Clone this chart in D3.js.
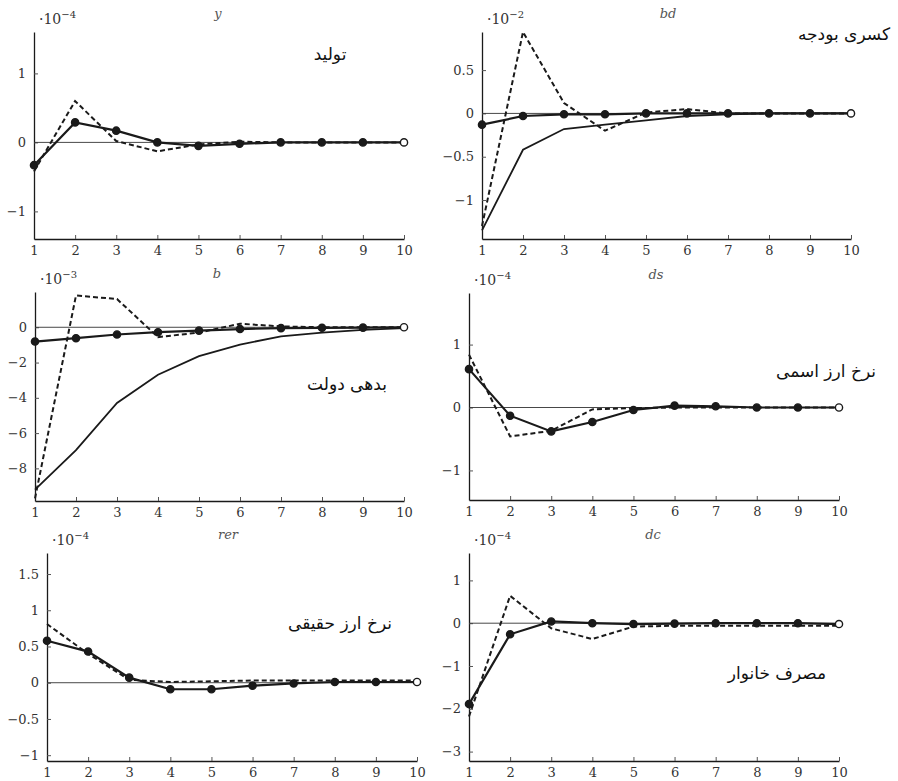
<!DOCTYPE html>
<html>
<head>
<meta charset="utf-8">
<script src="https://cdn.jsdelivr.net/npm/d3@7"></script>
<style>
  body { margin: 0; background: #fff; }
  svg { display: block; }
</style>
</head>
<body>
<div id="chart"></div>
<script>
// periods on the x axis
const periods = [1, 2, 3, 4, 5, 6, 7, 8, 9, 10];

// y : output
const yMarked = [-0.33, 0.29, 0.17, 0.0, -0.05, -0.02, 0.0, 0.0, 0.0, 0.0];
const yDashed = [-0.42, 0.6, 0.02, -0.13, -0.03, 0.01, 0.0, 0.0, 0.0, 0.0];

// bd : budget deficit
const bdMarked = [-0.13, -0.03, -0.01, -0.01, 0.0, 0.0, 0.0, 0.0, 0.0, 0.0];
const bdDashed = [-1.3, 0.94, 0.12, -0.2, 0.01, 0.05, 0.0, 0.0, 0.0, 0.0];
const bdPlain = [-1.35, -0.42, -0.18, -0.13, -0.08, -0.03, -0.01, 0.0, 0.0, 0.0];

// b : government debt
const bMarked = [-0.81, -0.62, -0.41, -0.28, -0.19, -0.1, -0.05, -0.03, -0.02, 0.0];
const bDashed = [-9.7, 1.8, 1.6, -0.56, -0.3, 0.2, 0.05, 0.0, 0.0, 0.0];
const bPlain = [-9.2, -6.97, -4.29, -2.69, -1.64, -0.98, -0.51, -0.3, -0.15, -0.05];

// ds : nominal exchange rate
const dsMarked = [0.61, -0.13, -0.38, -0.23, -0.04, 0.03, 0.02, 0.0, 0.0, 0.0];
const dsDashed = [0.84, -0.46, -0.37, -0.03, -0.01, 0.0, 0.0, 0.0, 0.0, 0.0];

// rer : real exchange rate
const rerMarked = [0.58, 0.43, 0.07, -0.09, -0.09, -0.04, -0.01, 0.01, 0.01, 0.01];
const rerDashed = [0.81, 0.4, 0.04, 0.01, 0.02, 0.03, 0.03, 0.03, 0.03, 0.03];

// dc : household consumption
const dcMarked = [-1.89, -0.26, 0.04, 0.0, -0.02, -0.01, 0.0, 0.0, 0.0, -0.02];
const dcDashed = [-2.18, 0.64, -0.12, -0.37, -0.08, -0.06, -0.06, -0.06, -0.06, -0.06];

const panels = [
    { title: "y", exp: "−4", label: "تولید", marked: yMarked, dashed: yDashed, plain: null,
      x0: 34, x1: 404, top: 32, bottom: 239, domain: [-1.4, 1.6], ticks: [-1, 0, 1],
      titleX: 218, labelX: 330, labelY: 60 },
    { title: "bd", exp: "−2", label: "کسری بودجه", marked: bdMarked, dashed: bdDashed, plain: bdPlain,
      x0: 482, x1: 851, top: 32, bottom: 239, domain: [-1.45, 0.94], ticks: [-1, -0.5, 0, 0.5],
      titleX: 668, labelX: 844, labelY: 40 },
    { title: "b", exp: "−3", label: "بدهی دولت", marked: bMarked, dashed: bDashed, plain: bPlain,
      x0: 35, x1: 404, top: 292, bottom: 501, domain: [-9.85, 2], ticks: [-8, -6, -4, -2, 0],
      titleX: 217, labelX: 347, labelY: 390 },
    { title: "ds", exp: "−4", label: "نرخ ارز اسمی", marked: dsMarked, dashed: dsDashed, plain: null,
      x0: 469, x1: 839, top: 293, bottom: 500, domain: [-1.47, 1.82], ticks: [-1, 0, 1],
      titleX: 656, labelX: 826, labelY: 377 },
    { title: "rer", exp: "−4", label: "نرخ ارز حقیقی", marked: rerMarked, dashed: rerDashed, plain: null,
      x0: 47, x1: 417, top: 553, bottom: 761, domain: [-1.08, 1.79], ticks: [-1, -0.5, 0, 0.5, 1, 1.5],
      titleX: 228, labelX: 340, labelY: 629 },
    { title: "dc", exp: "−4", label: "مصرف خانوار", marked: dcMarked, dashed: dcDashed, plain: null,
      x0: 469, x1: 839, top: 553, bottom: 761, domain: [-3.22, 1.64], ticks: [-3, -2, -1, 0, 1],
      titleX: 653, labelX: 777, labelY: 679 }
];

const width = 898, height = 781;
const ink = "#1a1a1a";
const serif = "'DejaVu Serif', serif";

const svg = d3.select("#chart").append("svg")
    .attr("width", width)
    .attr("height", height);

const fmt = v => String(v).replace("-", "−");

panels.forEach(p => {
    const xScale = d3.scaleLinear().domain([1, 10]).range([p.x0, p.x1]);
    const yScale = d3.scaleLinear().domain(p.domain).range([p.bottom, p.top]);

    const g = svg.append("g").attr("class", "panel");

    // x axis (ticks point inward)
    const xAxisG = g.append("g")
        .attr("transform", "translate(0," + p.bottom + ")")
        .call(d3.axisBottom(xScale).tickValues(periods).tickSize(-4).tickPadding(7).tickSizeOuter(0));
    xAxisG.select(".domain").attr("stroke", ink).attr("stroke-width", 1.3);
    xAxisG.selectAll(".tick line").attr("stroke", "#555");

    // y axis
    const yAxisG = g.append("g")
        .attr("transform", "translate(" + p.x0 + ",0)")
        .call(d3.axisLeft(yScale).tickValues(p.ticks).tickFormat(fmt).tickSize(-4).tickPadding(8).tickSizeOuter(0));
    yAxisG.select(".domain").attr("stroke", ink).attr("stroke-width", 1.3);
    yAxisG.selectAll(".tick line").attr("stroke", "#555");

    g.selectAll(".tick text")
        .attr("font-family", serif)
        .attr("font-size", 13)
        .attr("fill", "#333");

    // zero line
    g.append("line")
        .attr("x1", xScale(1)).attr("x2", xScale(10))
        .attr("y1", yScale(0)).attr("y2", yScale(0))
        .attr("stroke", "#333").attr("stroke-width", 0.9);

    const line = d3.line()
        .x((d, i) => xScale(periods[i]))
        .y(d => yScale(d));

    g.append("path")
        .datum(p.dashed)
        .attr("d", line)
        .attr("fill", "none")
        .attr("stroke", ink)
        .attr("stroke-width", 2)
        .attr("stroke-dasharray", "5,3");

    if (p.plain) {
        g.append("path")
            .datum(p.plain)
            .attr("d", line)
            .attr("fill", "none")
            .attr("stroke", ink)
            .attr("stroke-width", 1.8);
    }

    g.append("path")
        .datum(p.marked)
        .attr("d", line)
        .attr("fill", "none")
        .attr("stroke", ink)
        .attr("stroke-width", 2.2);

    g.selectAll(".dot")
        .data(p.marked)
        .join("circle")
        .attr("class", "dot")
        .attr("cx", (d, i) => xScale(periods[i]))
        .attr("cy", d => yScale(d))
        .attr("r", 3.6)
        .attr("fill", (d, i) => i === periods.length - 1 ? "#fff" : ink)
        .attr("stroke", ink)
        .attr("stroke-width", 1.4);

    // panel title (variable name)
    g.append("text")
        .attr("x", p.titleX)
        .attr("y", p.top - 14)
        .attr("text-anchor", "middle")
        .attr("font-family", serif)
        .attr("font-style", "italic")
        .attr("font-size", 13)
        .attr("fill", "#555")
        .text(p.title);

    // scale factor
    const sf = g.append("text")
        .attr("x", p.x0 + 5)
        .attr("y", p.top - 8)
        .attr("font-family", serif)
        .attr("font-size", 14)
        .attr("fill", "#333");
    sf.append("tspan").text("·10");
    sf.append("tspan").attr("dy", -6).attr("font-size", 10).text(p.exp);

    // persian label
    g.append("text")
        .attr("x", p.labelX)
        .attr("y", p.labelY)
        .attr("text-anchor", "middle")
        .attr("font-family", "'DejaVu Sans', sans-serif")
        .attr("font-size", 17)
        .attr("fill", "#111")
        .text(p.label);
});
</script>
</body>
</html>
